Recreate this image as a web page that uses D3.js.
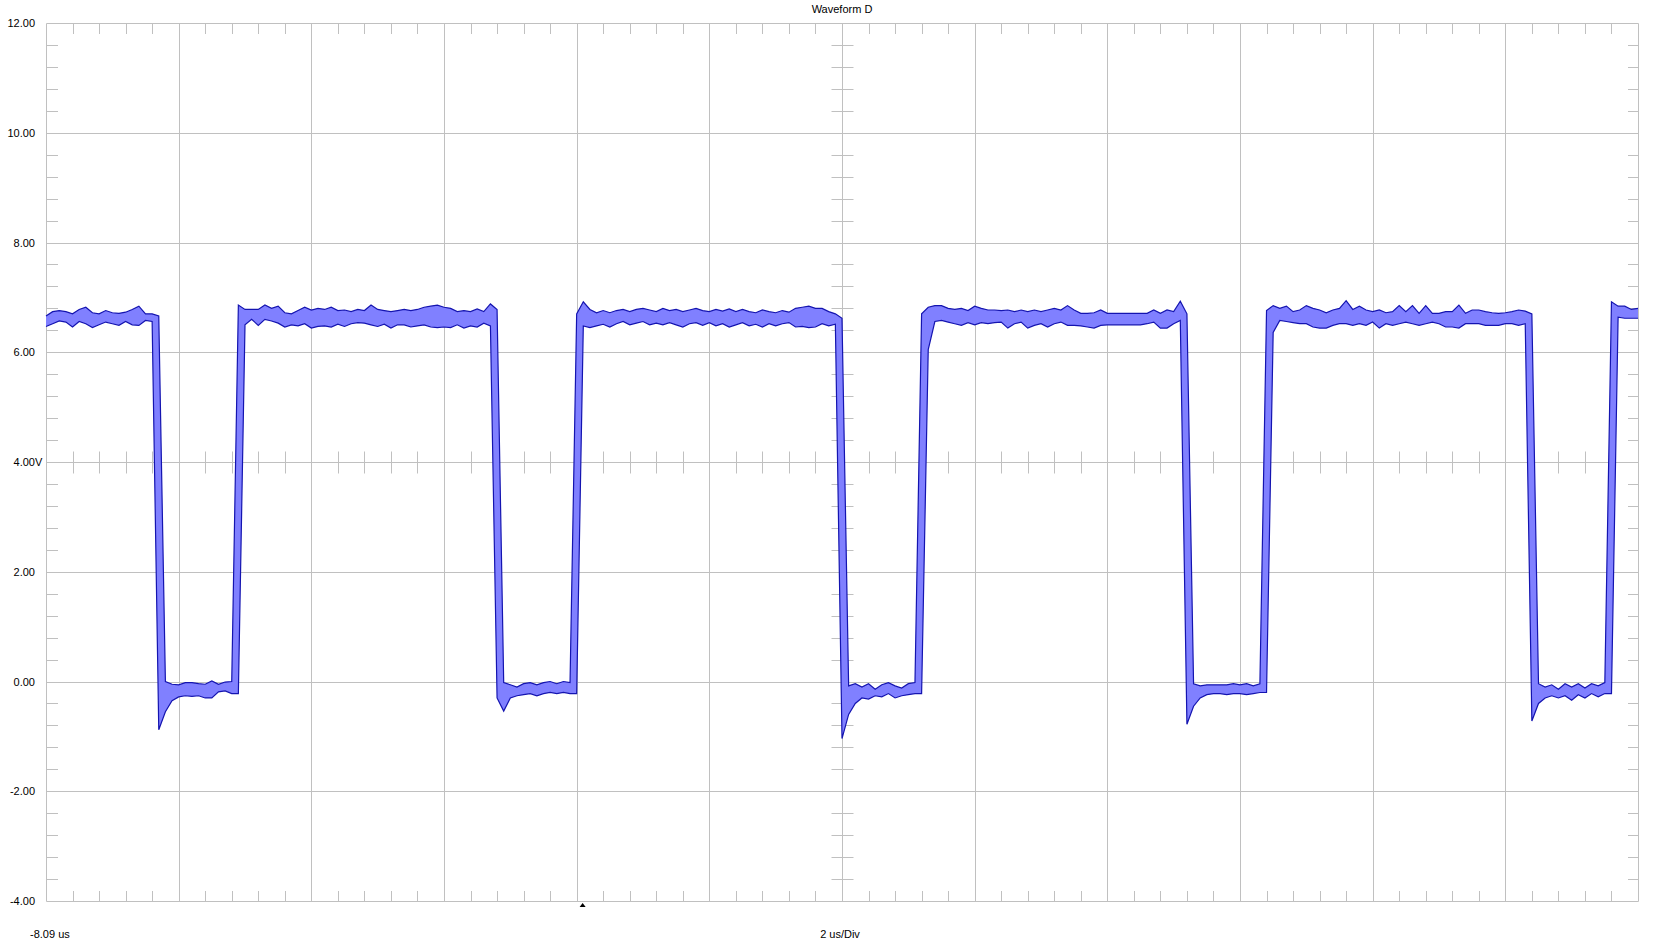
<!DOCTYPE html>
<html>
<head>
<meta charset="utf-8">
<script src="https://cdn.jsdelivr.net/npm/d3@7"></script>
<style>
  html, body { margin: 0; padding: 0; background: #fff; }
  svg { display: block; font-family: "Liberation Sans", Arial, sans-serif; }
</style>
</head>
<body>
<div id="chart"></div>
<script>
// scope record: first sample time, sample step (us), 2 us per division, 12 divisions
const T0_US = -8.09;
const DT_US = 0.1;
const US_PER_DIV = 2;
const X_DIVS = 12;
const TRIGGER_US = 0;

// peak-detect envelope, volts (max / min per sample)
const vMax = [
  6.66, 6.74, 6.76, 6.74, 6.70, 6.78, 6.82, 6.72, 6.70, 6.76,
  6.72, 6.71, 6.73, 6.78, 6.84, 6.70, 6.70, 6.66, 0.00, -0.05,
  -0.06, -0.02, -0.02, -0.04, -0.05, 0.01, -0.05, -0.01, 0.00, 6.86,
  6.78, 6.78, 6.78, 6.86, 6.80, 6.84, 6.72, 6.70, 6.76, 6.82,
  6.77, 6.80, 6.78, 6.82, 6.76, 6.77, 6.74, 6.78, 6.76, 6.86,
  6.78, 6.76, 6.74, 6.76, 6.78, 6.76, 6.78, 6.82, 6.84, 6.86,
  6.82, 6.80, 6.74, 6.76, 6.74, 6.79, 6.74, 6.88, 6.78, -0.02,
  -0.06, -0.10, -0.04, -0.02, -0.06, -0.02, 0.00, -0.04, 0.00, -0.02,
  6.70, 6.92, 6.78, 6.72, 6.76, 6.72, 6.76, 6.78, 6.74, 6.78,
  6.80, 6.77, 6.74, 6.80, 6.76, 6.78, 6.74, 6.77, 6.80, 6.76,
  6.74, 6.78, 6.75, 6.79, 6.74, 6.78, 6.74, 6.72, 6.77, 6.74,
  6.72, 6.76, 6.73, 6.80, 6.82, 6.84, 6.80, 6.80, 6.74, 6.70,
  6.62, -0.08, -0.04, -0.10, -0.04, -0.14, -0.06, -0.02, -0.08, -0.12,
  -0.04, -0.02, 6.70, 6.82, 6.85, 6.85, 6.80, 6.78, 6.80, 6.76,
  6.84, 6.80, 6.77, 6.77, 6.76, 6.77, 6.74, 6.77, 6.74, 6.77,
  6.74, 6.77, 6.80, 6.77, 6.85, 6.77, 6.71, 6.71, 6.72, 6.77,
  6.71, 6.71, 6.71, 6.71, 6.71, 6.71, 6.71, 6.77, 6.71, 6.77,
  6.74, 6.93, 6.70, -0.04, -0.08, -0.06, -0.06, -0.06, -0.06, -0.04,
  -0.06, -0.04, -0.08, -0.04, 6.76, 6.85, 6.80, 6.84, 6.74, 6.77,
  6.85, 6.80, 6.77, 6.72, 6.77, 6.80, 6.94, 6.78, 6.84, 6.77,
  6.74, 6.77, 6.72, 6.74, 6.85, 6.74, 6.85, 6.71, 6.85, 6.71,
  6.71, 6.74, 6.74, 6.86, 6.71, 6.77, 6.77, 6.74, 6.72, 6.71,
  6.72, 6.74, 6.77, 6.75, 6.70, -0.04, -0.10, -0.06, -0.14, -0.04,
  -0.10, -0.04, -0.12, -0.04, -0.08, -0.02, 6.92, 6.84, 6.84, 6.78,
  6.80
];
const vMin = [
  6.47, 6.52, 6.57, 6.55, 6.46, 6.56, 6.52, 6.45, 6.50, 6.55,
  6.52, 6.49, 6.56, 6.50, 6.49, 6.58, 6.56, -0.88, -0.55, -0.35,
  -0.28, -0.26, -0.27, -0.26, -0.30, -0.30, -0.19, -0.17, -0.22, -0.22,
  6.50, 6.60, 6.49, 6.60, 6.57, 6.53, 6.46, 6.50, 6.48, 6.52,
  6.44, 6.47, 6.48, 6.46, 6.51, 6.47, 6.52, 6.54, 6.53, 6.50,
  6.47, 6.51, 6.44, 6.50, 6.50, 6.46, 6.48, 6.50, 6.46, 6.45,
  6.46, 6.45, 6.50, 6.44, 6.48, 6.46, 6.53, 6.48, -0.30, -0.54,
  -0.30, -0.26, -0.24, -0.22, -0.26, -0.22, -0.20, -0.22, -0.20, -0.22,
  -0.22, 6.48, 6.45, 6.48, 6.51, 6.46, 6.52, 6.56, 6.50, 6.53,
  6.56, 6.50, 6.53, 6.50, 6.54, 6.50, 6.46, 6.52, 6.54, 6.49,
  6.54, 6.48, 6.52, 6.46, 6.50, 6.54, 6.48, 6.51, 6.46, 6.52,
  6.48, 6.52, 6.54, 6.46, 6.47, 6.45, 6.46, 6.52, 6.48, 6.51,
  -1.04, -0.60, -0.40, -0.30, -0.32, -0.26, -0.28, -0.22, -0.30, -0.26,
  -0.24, -0.22, -0.22, 6.05, 6.56, 6.58, 6.55, 6.52, 6.49, 6.54,
  6.50, 6.54, 6.52, 6.54, 6.55, 6.44, 6.52, 6.55, 6.44, 6.49,
  6.52, 6.46, 6.52, 6.55, 6.49, 6.49, 6.48, 6.46, 6.44, 6.49,
  6.50, 6.50, 6.50, 6.50, 6.50, 6.50, 6.52, 6.55, 6.44, 6.44,
  6.52, 6.58, -0.78, -0.45, -0.30, -0.24, -0.22, -0.22, -0.24, -0.22,
  -0.22, -0.24, -0.22, -0.20, -0.20, 6.36, 6.58, 6.56, 6.54, 6.52,
  6.52, 6.46, 6.44, 6.44, 6.49, 6.52, 6.52, 6.49, 6.52, 6.49,
  6.55, 6.44, 6.52, 6.49, 6.52, 6.55, 6.52, 6.49, 6.52, 6.55,
  6.52, 6.46, 6.46, 6.44, 6.52, 6.52, 6.52, 6.49, 6.49, 6.49,
  6.52, 6.52, 6.49, 6.52, -0.72, -0.40, -0.30, -0.26, -0.30, -0.26,
  -0.34, -0.24, -0.30, -0.22, -0.28, -0.22, -0.22, 6.64, 6.62, 6.62,
  6.62
];

// vertical axis: volts at each division line, labels as printed
const yDivValues = [12, 10, 8, 6, 4, 2, 0, -2, -4];
const yDivLabels = ["12.00", "10.00", "8.00", "6.00", "4.00", "2.00", "0.00", "-2.00", "-4.00"];
const yCenterValue = 4;
const yUnit = "V";

const title = "Waveform D";
const xStartLabel = "-8.09 us";
const xScaleLabel = "2 us/Div";

const W = 1662, H = 943;
const plot = { left: 46, right: 1638, top: 23, bottom: 901 };
const gridColor = "#c0c0c0";

const xMax = T0_US + X_DIVS * US_PER_DIV;
const x = d3.scaleLinear().domain([T0_US, xMax]).range([plot.left, plot.right]);
const y = d3.scaleLinear().domain([d3.min(yDivValues), d3.max(yDivValues)]).range([plot.bottom, plot.top]);
const px = (v) => Math.round(v) + 0.5;

const svg = d3.select("#chart").append("svg").attr("width", W).attr("height", H);

// grid: one line per division, the frame included
const xDivs = d3.range(X_DIVS + 1).map((j) => T0_US + j * US_PER_DIV);
const grid = svg.append("g").attr("stroke", gridColor).attr("stroke-width", 1).attr("fill", "none");
grid.selectAll("line.v").data(xDivs).join("line").attr("class", "v")
  .attr("x1", (d) => px(x(d))).attr("x2", (d) => px(x(d)))
  .attr("y1", px(plot.top)).attr("y2", px(plot.bottom));
grid.selectAll("line.h").data(yDivValues).join("line").attr("class", "h")
  .attr("x1", px(plot.left)).attr("x2", px(plot.right))
  .attr("y1", (d) => px(y(d))).attr("y2", (d) => px(y(d)));

// minor ticks, 5 per division, on the frame and on the two centre axes
const xMinor = d3.range(X_DIVS * 5 + 1).filter((j) => j % 5 !== 0).map((j) => T0_US + j * US_PER_DIV / 5);
const yStep = (d3.max(yDivValues) - d3.min(yDivValues)) / (yDivValues.length - 1);
const yMinor = d3.range((yDivValues.length - 1) * 5 + 1).filter((j) => j % 5 !== 0)
  .map((j) => d3.min(yDivValues) + j * yStep / 5);
const xCenter = px(x(T0_US + (X_DIVS / 2) * US_PER_DIV));
const yCenter = px(y(yCenterValue));

const ticks = svg.append("g").attr("stroke", gridColor).attr("stroke-width", 1);
xMinor.forEach((t) => {
  const xx = px(x(t));
  ticks.append("line").attr("x1", xx).attr("x2", xx).attr("y1", plot.top).attr("y2", plot.top + 11);
  ticks.append("line").attr("x1", xx).attr("x2", xx).attr("y1", plot.bottom - 10).attr("y2", plot.bottom + 1);
  ticks.append("line").attr("x1", xx).attr("x2", xx).attr("y1", yCenter - 11).attr("y2", yCenter + 11);
});
yMinor.forEach((v) => {
  const yy = px(y(v));
  ticks.append("line").attr("x1", plot.left).attr("x2", plot.left + 12).attr("y1", yy).attr("y2", yy);
  ticks.append("line").attr("x1", plot.right - 10).attr("x2", plot.right + 1).attr("y1", yy).attr("y2", yy);
  ticks.append("line").attr("x1", xCenter - 11).attr("x2", xCenter + 11).attr("y1", yy).attr("y2", yy);
});

// waveform envelope
const samples = vMax.map((hi, i) => ({ t: T0_US + i * DT_US, hi, lo: vMin[i] }));
const area = d3.area().x((d) => x(d.t)).y0((d) => y(d.lo)).y1((d) => y(d.hi));
svg.append("path").datum(samples).attr("d", area).attr("fill", "#8080ff").attr("stroke", "none");
const wave = svg.append("g").attr("fill", "none").attr("stroke", "#1414b0").attr("stroke-width", 1.2)
  .attr("stroke-linejoin", "miter");
wave.append("path").datum(samples).attr("d", d3.line().x((d) => x(d.t)).y((d) => y(d.hi)));
wave.append("path").datum(samples).attr("d", d3.line().x((d) => x(d.t)).y((d) => y(d.lo)));

// labels
const labels = svg.append("g").attr("font-size", 11).attr("fill", "#000");
labels.selectAll("text.y").data(yDivValues).join("text").attr("class", "y")
  .attr("x", 35).attr("y", (d) => y(d) + 4).attr("text-anchor", "end")
  .text((d, i) => yDivLabels[i]);
labels.append("text").attr("x", 35).attr("y", y(yCenterValue) + 4).text(yUnit);

labels.append("text").attr("x", x(T0_US + (X_DIVS / 2) * US_PER_DIV)).attr("y", 13)
  .attr("text-anchor", "middle").text(title);
labels.append("text").attr("x", 30).attr("y", 938).text(xStartLabel);
labels.append("text").attr("x", x(T0_US + (X_DIVS / 2) * US_PER_DIV) - 2).attr("y", 938)
  .attr("text-anchor", "middle").text(xScaleLabel);

// trigger marker under the time axis
const tx = x(TRIGGER_US);
svg.append("path")
  .attr("d", `M${tx - 3},${plot.bottom + 6} L${tx + 3},${plot.bottom + 6} L${tx},${plot.bottom + 2} Z`)
  .attr("fill", "#000");
</script>
</body>
</html>
